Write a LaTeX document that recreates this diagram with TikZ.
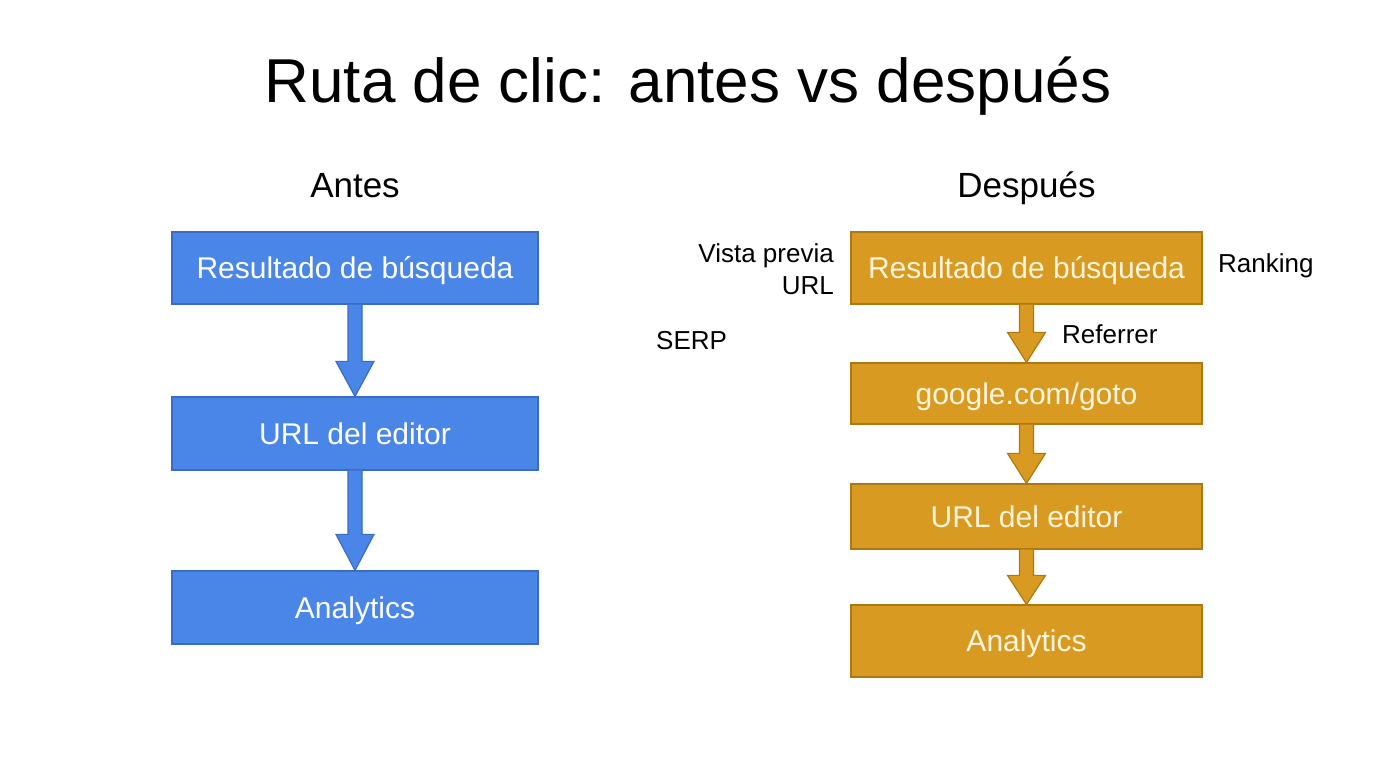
\documentclass[tikz,border=0pt]{standalone}
\usepackage{fontspec}
\setmainfont{Liberation Sans}
\usetikzlibrary{calc}

\definecolor{azul}{HTML}{4A86E8}
\definecolor{azulborde}{HTML}{3A6CC4}
\definecolor{oro}{HTML}{D99A22}
\definecolor{oroborde}{HTML}{AC7812}
\definecolor{crema}{HTML}{FFF5DD}

% flecha de bloque: relleno, borde, desde, hasta, largo de la punta
\newcommand{\flecha}[5]{%
  \filldraw[fill=#1, draw=#2, line width=1.2pt, line join=miter]
    let \p1=(#3.south), \p2=(#4.north) in
    ({\x1-7pt},\y1) -- ({\x1-7pt},{\y2+#5}) -- ({\x1-19pt},{\y2+#5}) -- (\x1,\y2)
    -- ({\x1+19pt},{\y2+#5}) -- ({\x1+7pt},{\y2+#5}) -- ({\x1+7pt},\y1);}

\begin{document}
\begin{tikzpicture}[x=1pt, y=1pt,
    cajaazul/.style={draw=azulborde, fill=azul, line width=1.2pt, text=white,
        minimum width=366pt, minimum height=72pt, inner sep=0pt, text height=21.5pt, text depth=0pt,
        font=\fontsize{30}{36}\selectfont},
    cajaoro/.style={draw=oroborde, fill=oro, line width=1.2pt, text=crema,
        minimum width=351pt, inner sep=0pt, text height=21.5pt, text depth=0pt,
        font=\fontsize{30}{36}\selectfont},
    etiqueta/.style={font=\fontsize{26}{32}\selectfont, inner sep=0pt},
    subtitulo/.style={font=\fontsize{35}{42}\selectfont, anchor=base, inner sep=0pt}]
    \fill[white] (0,0) rectangle (1376,768);
    \useasboundingbox (0,0) rectangle (1376,768);

    \node[anchor=base, inner sep=0pt, font=\fontsize{62}{74}\selectfont] (titulo) at (688,665)
        {Ruta de clic: antes vs después};

    % antes
    \node[subtitulo] (antes) at (355,570) {Antes};
    \node[cajaazul] (a1) at (355,500) {Resultado de búsqueda};
    \node[cajaazul, minimum height=73pt] (a2) at (355,334.5) {URL del editor};
    \node[cajaazul, minimum height=73pt] (a3) at (355,160.5) {Analytics};
    \flecha{azul}{azulborde}{a1}{a2}{35pt}
    \flecha{azul}{azulborde}{a2}{a3}{36pt}

    % despues
    \node[subtitulo] (despues) at (1026.5,570) {Después};
    \node[cajaoro, minimum height=72pt] (d1) at (1026.5,500) {Resultado de búsqueda};
    \node[cajaoro, minimum height=61pt] (d2) at (1026.5,374.5) {google.com/goto};
    \node[cajaoro, minimum height=65pt] (d3) at (1026.5,251.5) {URL del editor};
    \node[cajaoro, minimum height=72pt] (d4) at (1026.5,127) {Analytics};
    \flecha{oro}{oroborde}{d1}{d2}{30pt}
    \flecha{oro}{oroborde}{d2}{d3}{30pt}
    \flecha{oro}{oroborde}{d3}{d4}{29pt}

    \node[etiqueta, align=right, anchor=east] (vista) at (834,499) {Vista previa\\URL};
    \node[etiqueta, anchor=west] (ranking) at (1218,502) {Ranking};
    \node[etiqueta, anchor=west] (serp) at (656,427) {SERP};
    \node[etiqueta, anchor=west] (referrer) at (1062,434) {Referrer};
\end{tikzpicture}
\end{document}
